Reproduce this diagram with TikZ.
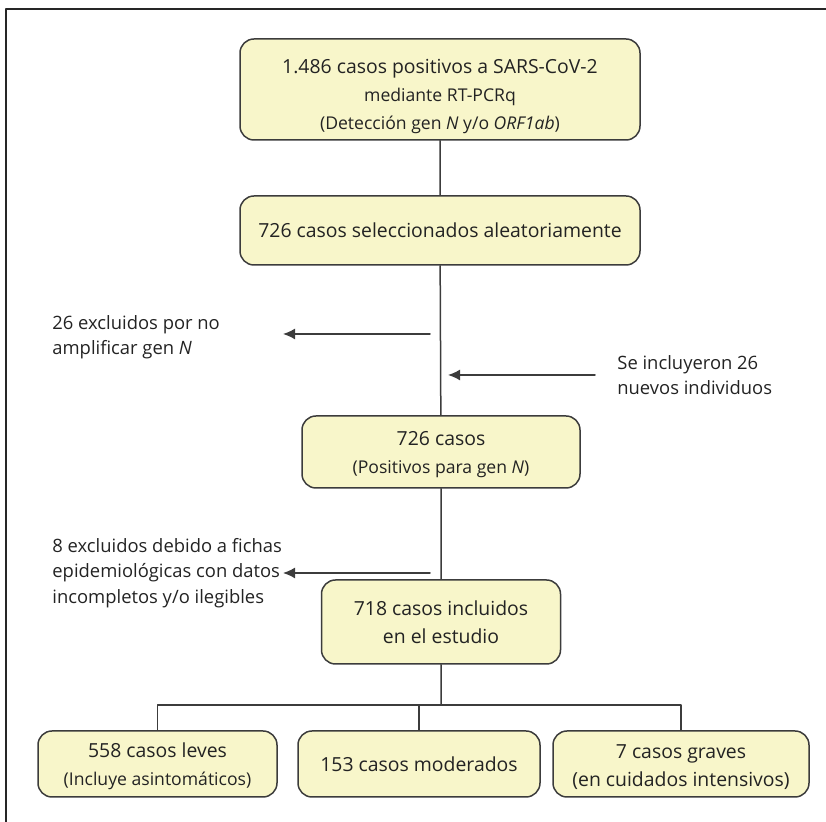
\documentclass[tikz,border=0pt]{standalone}
\usepackage{fontspec}
\setmainfont{Open Sans}
\usetikzlibrary{arrows.meta}
\definecolor{cajafondo}{RGB}{248,246,202}
\definecolor{cajaborde}{RGB}{60,60,60}
\definecolor{texto}{RGB}{35,35,35}
\newcommand\chica{\fontsize{8.8}{14}\selectfont}

\begin{document}
\begin{tikzpicture}[x=0.5pt,y=-0.5pt,font=\fontsize{9.7}{14}\selectfont,line join=round,line cap=round,>={Latex[length=6pt,width=5.5pt]},
	caja/.style={draw=cajaborde,fill=cajafondo,line width=0.75pt,rounded corners=7pt,align=center,text=texto,inner sep=0pt},
	nota/.style={align=left,anchor=west,text=texto,inner sep=0pt,font=\fontsize{9.2}{12.7}\selectfont},
	linea/.style={draw=cajaborde,line width=0.75pt}] 
\useasboundingbox (0,0) rectangle (826,822);
\draw[line width=1pt,black!85] (6,822)--(6,9)--(826,9);
% cajas
\node[caja,minimum width=200pt,minimum height=50.5pt] (positivos) at (440,89.5) {\rule{0pt}{14pt}1.486 casos positivos a SARS-CoV-2\\{\chica mediante RT-PCRq}\\{\chica (Detección gen \textit{N} y/o \textit{ORF1ab})}};
\node[caja,minimum width=200pt,minimum height=34.5pt] (seleccion) at (440,230.5) {726 casos seleccionados aleatoriamente};
\node[caja,minimum width=139pt,minimum height=36pt] (genN) at (441,452) {\rule{0pt}{10pt}726 casos\\{\chica (Positivos para gen \textit{N})}};
\node[caja,minimum width=119.5pt,minimum height=42pt] (incluidos) at (441,622) {718 casos incluidos\\en el estudio};
\node[caja,minimum width=119.5pt,minimum height=33pt] (leves) at (157.5,764) {\rule{0pt}{10pt}558 casos leves\\{\chica (Incluye asintomáticos)}};
\node[caja,minimum width=121pt,minimum height=33pt] (moderados) at (419,764) {153 casos moderados};
\node[caja,minimum width=128pt,minimum height=33pt] (graves) at (681,764) {\rule{0pt}{10pt}7 casos graves\\(en cuidados intensivos)};
% notas laterales
\node[nota] (excl1) at (52,337) {26 excluidos por no\\amplificar gen \textit{N}};
\node[nota] (nuevos) at (617,375) {Se incluyeron 26\\nuevos individuos};
\node[nota] (excl2) at (52,573) {8 excluidos debido a fichas\\epidemiológicas con datos\\incompletos y/o ilegibles};
\coordinate (a1) at (430,334); \coordinate (b1) at (283,334);
\coordinate (a2) at (595,375); \coordinate (b2) at (448,375);
\coordinate (a3) at (430,573); \coordinate (b3) at (283,573);
\coordinate (rama) at (441,705);
% conectores
\draw[linea] (positivos)--(seleccion) (seleccion)--(genN) (genN)--(incluidos) (incluidos)--(rama);
\draw[linea] (leves.north)|-(rama)-|(graves.north) (moderados.north)--(moderados.north|-rama);
\draw[linea,->] (a1)--(b1);
\draw[linea,->] (a2)--(b2);
\draw[linea,->] (a3)--(b3);
\end{tikzpicture}
\end{document}
